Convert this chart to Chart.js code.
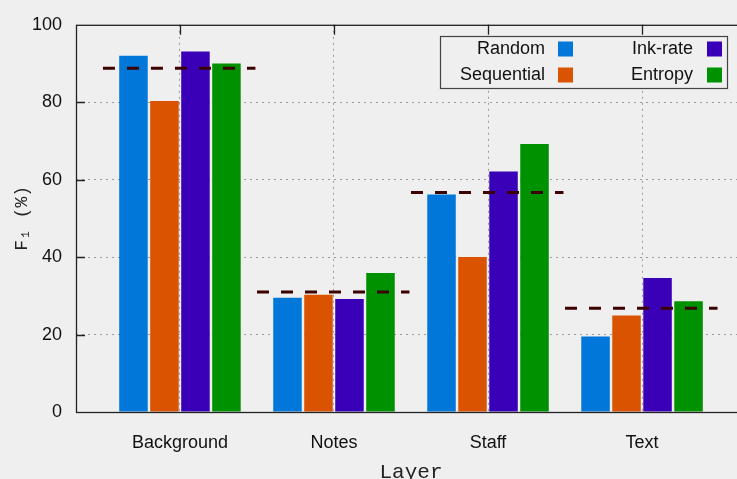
<!DOCTYPE html>
<html>
<head>
<meta charset="utf-8">
<script src="https://cdn.jsdelivr.net/npm/chart.js@4.4.1/dist/chart.umd.min.js"></script>
<style>
  html, body { margin: 0; padding: 0; background: #efefef; overflow: hidden; }
</style>
</head>
<body>
<canvas id="f1Chart" width="750" height="479"></canvas>
<script>
// data
const layers = ["Background", "Notes", "Staff", "Text"];
const randomF1 = [92.0, 29.5, 56.2, 19.5];
const sequentialF1 = [80.3, 30.3, 40.0, 24.9];
const inkRateF1 = [93.1, 29.2, 62.1, 34.6];
const entropyF1 = [90.0, 35.9, 69.2, 28.6];
const baselineF1 = [88.8, 31.0, 56.7, 26.8];
const yTicks = [0, 20, 40, 60, 80, 100];

const toPoints = (arr) => arr.map((v, i) => ({ x: i, y: v }));

// dashed reference line per layer, broken between layers
const baselinePoints = [];
baselineF1.forEach((v, i) => {
  baselinePoints.push({ x: i - 0.5, y: v }, { x: i + 0.49, y: v }, { x: i + 0.49, y: null });
});

const FONT = "'Liberation Sans', Arial, Helvetica, sans-serif";
const MONO = "'Liberation Mono', 'DejaVu Sans Mono', 'Courier New', monospace";

// box around the plot, inward ticks, legend
const framePlugin = {
  id: "frame",
  afterDatasetsDraw(chart) {
    const { ctx, chartArea: a, scales } = chart;
    ctx.save();
    ctx.strokeStyle = "#222";
    ctx.lineWidth = 1.3;
    ctx.beginPath();
    yTicks.forEach((t) => {
      if (t === 0 || t === 100) return;
      const y = Math.round(scales.y.getPixelForValue(t)) + 0.5;
      ctx.moveTo(a.left, y);
      ctx.lineTo(a.left + 9, y);
    });
    layers.forEach((_, i) => {
      const x = Math.round(scales.x.getPixelForValue(i)) + 0.5;
      ctx.moveTo(x, a.top);
      ctx.lineTo(x, a.top + 10);
    });
    ctx.stroke();
    ctx.strokeRect(a.left + 0.5, a.top + 0.5, a.right - a.left, a.bottom - a.top);

    // legend
    const box = { x: 440.5, y: 36.5, w: 287, h: 52 };
    ctx.fillStyle = "#efefef";
    ctx.fillRect(box.x, box.y, box.w, box.h);
    ctx.strokeStyle = "#444";
    ctx.lineWidth = 1.2;
    ctx.strokeRect(box.x, box.y, box.w, box.h);
    const textRight = [545, 693];
    const swatchX = [558, 707];
    const rowY = [49, 75];
    ctx.font = "18px " + FONT;
    ctx.textAlign = "right";
    ctx.textBaseline = "middle";
    chart.data.datasets.filter((d) => d.type !== "line").forEach((d, k) => {
      const col = Math.floor(k / 2);
      const row = k % 2;
      ctx.fillStyle = "#111";
      ctx.fillText(d.label, textRight[col], rowY[row]);
      ctx.fillStyle = d.backgroundColor;
      ctx.fillRect(swatchX[col], rowY[row] - 7.5, 15, 15);
    });
    ctx.restore();
  },
};

new Chart(document.getElementById("f1Chart").getContext("2d"), {
  type: "bar",
  data: {
    datasets: [
      { label: "Random", data: toPoints(randomF1), backgroundColor: "#0077d9", order: 1 },
      { label: "Sequential", data: toPoints(sequentialF1), backgroundColor: "#d95300", order: 1 },
      { label: "Ink-rate", data: toPoints(inkRateF1), backgroundColor: "#3a00b8", order: 1 },
      { label: "Entropy", data: toPoints(entropyF1), backgroundColor: "#009100", order: 1 },
      {
        type: "line",
        label: "baseline",
        data: baselinePoints,
        borderColor: "#3c0000",
        borderWidth: 3,
        borderDash: [12, 12],
        pointRadius: 0,
        spanGaps: false,
        fill: false,
        order: 0,
      },
    ],
  },
  options: {
    responsive: false,
    animation: false,
    layout: { padding: { left: 0, top: 22, right: 4, bottom: 0 } },
    categoryPercentage: 0.805,
    barPercentage: 0.92,
    plugins: {
      legend: { display: false },
      tooltip: { enabled: false },
    },
    scales: {
      x: {
        type: "linear",
        min: -0.675,
        max: 3.675,
        offset: false,
        afterBuildTicks: (scale) => {
          scale.ticks = layers.map((_, i) => ({ value: i }));
        },
        afterFit: (scale) => {
          scale.height = 67;
        },
        ticks: {
          callback: (v) => layers[v] ?? "",
          font: { family: FONT, size: 18 },
          color: "#111",
          padding: 20,
          maxRotation: 0,
          autoSkip: false,
        },
        grid: {
          offset: false,
          drawTicks: false,
          color: "#9a9a9a",
          lineWidth: 1,
        },
        border: { display: false, dash: [2, 4] },
        title: {
          display: true,
          text: "Layer",
          font: { family: MONO, size: 21, lineHeight: 0.6 },
          color: "#222",
          padding: 0,
        },
      },
      y: {
        min: 0,
        max: 100,
        afterBuildTicks: (scale) => {
          scale.ticks = yTicks.map((v) => ({ value: v }));
        },
        afterFit: (scale) => {
          scale.width = 76;
        },
        ticks: {
          font: { family: FONT, size: 18 },
          color: "#111",
          padding: 14,
        },
        grid: {
          drawTicks: false,
          color: (c) => (c.tick && (c.tick.value === 0 || c.tick.value === 100) ? "rgba(0,0,0,0)" : "#9a9a9a"),
          lineWidth: 1,
        },
        border: { display: false, dash: [2, 4] },
        title: {
          display: true,
          text: "F\u2081 (%)",
          font: { family: MONO, size: 18 },
          color: "#222",
          padding: { top: 11, bottom: 0 },
        },
      },
    },
  },
  plugins: [framePlugin],
});
</script>
</body>
</html>
